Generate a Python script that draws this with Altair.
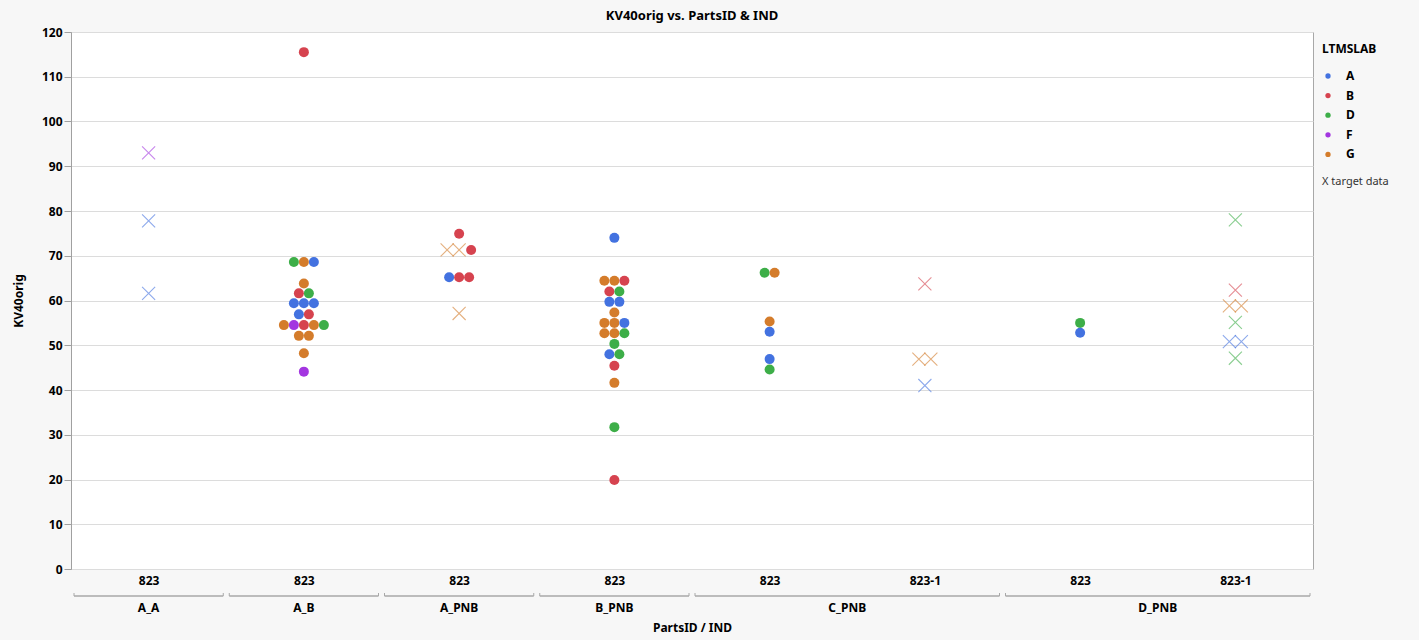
import altair as alt
import pandas as pd

# ---- data ----
groups = ["A_A", "A_B", "A_PNB", "B_PNB", "C_PNB", "D_PNB"]
group_start = [0, 1, 2, 3, 4, 6]
group_end = [1, 2, 3, 4, 6, 8]
ind_labels = ["823", "823", "823", "823", "823", "823-1", "823", "823-1"]
labs = ["A", "B", "D", "F", "G"]
lab_colors = ["#4372e0", "#d6434f", "#3dae48", "#a336e0", "#d47c2b"]

# rows: (column index, KV40orig, labs left->right, kinds left->right: o = lab data, x = target data)
rows = [
    (0, 93.0, "F", "x"),
    (0, 77.8, "A", "x"),
    (0, 61.6, "A", "x"),
    (1, 115.5, "B", "o"),
    (1, 68.6, "DGA", "ooo"),
    (1, 63.8, "G", "o"),
    (1, 61.6, "BD", "oo"),
    (1, 59.4, "AAA", "ooo"),
    (1, 56.9, "AB", "oo"),
    (1, 54.5, "GFBGD", "ooooo"),
    (1, 52.1, "GG", "oo"),
    (1, 48.2, "G", "o"),
    (1, 44.1, "F", "o"),
    (2, 74.9, "B", "o"),
    (2, 71.3, "GGB", "xxo"),
    (2, 65.2, "ABB", "ooo"),
    (2, 57.1, "G", "x"),
    (3, 74.0, "A", "o"),
    (3, 64.4, "GGB", "ooo"),
    (3, 62.0, "BD", "oo"),
    (3, 59.7, "AA", "oo"),
    (3, 57.3, "G", "o"),
    (3, 55.0, "GGA", "ooo"),
    (3, 52.7, "GGD", "ooo"),
    (3, 50.3, "D", "o"),
    (3, 48.0, "AD", "oo"),
    (3, 45.4, "B", "o"),
    (3, 41.6, "G", "o"),
    (3, 31.7, "D", "o"),
    (3, 19.9, "B", "o"),
    (4, 66.2, "DG", "oo"),
    (4, 55.3, "G", "o"),
    (4, 53.0, "A", "o"),
    (4, 46.9, "A", "o"),
    (4, 44.6, "D", "o"),
    (5, 63.7, "B", "x"),
    (5, 46.9, "GG", "xx"),
    (5, 41.0, "A", "x"),
    (6, 55.0, "D", "o"),
    (6, 52.8, "A", "o"),
    (7, 78.0, "D", "x"),
    (7, 62.3, "B", "x"),
    (7, 58.8, "GG", "xx"),
    (7, 55.1, "D", "x"),
    (7, 50.8, "AA", "xx"),
    (7, 47.1, "D", "x"),
]

W, H = 1242, 537
NCOL = len(ind_labels)
COL_PX = W / NCOL
FONT = "Noto Sans"

# swarm layout: points sharing a row sit side by side around the column centre
recs = []
for col, val, ls, ks in rows:
    n = len(ls)
    step = 12 if "x" in ks else 10
    for i, (l, k) in enumerate(zip(ls, ks)):
        off = (i - (n - 1) / 2) * step
        recs.append(dict(xpos=col + 0.5 + off / COL_PX, KV40orig=val, LTMSLAB=l, kind=k))
df = pd.DataFrame(recs)

gap = 3 / COL_PX
gdf = pd.DataFrame({
    "group": groups,
    "b0": [s + gap for s in group_start],
    "b1": [e - gap for e in group_end],
    "mid": [(s + e) / 2 for s, e in zip(group_start, group_end)],
})

xscale = alt.Scale(domain=[0, NCOL], nice=False, zero=False)
yscale = alt.Scale(domain=[0, 120], nice=False, zero=True)

label_arr = "[" + ",".join("'%s'" % s for s in ind_labels) + "]"
x_axis = alt.Axis(
    values=[i + 0.5 for i in range(NCOL)],
    labelExpr=label_arr + "[floor(datum.value)]",
    grid=False, ticks=False, domain=False,
    labelFont=FONT, labelFontSize=12, labelFontWeight="bold", labelColor="#000",
    labelPadding=6,
    title="PartsID / IND", titleFont=FONT, titleFontSize=12, titleFontWeight="bold",
    titleColor="#000", titlePadding=36,
)
y_axis = alt.Axis(
    values=list(range(0, 121, 10)),
    grid=True, gridColor="#dcdcdc",
    ticks=True, tickSize=7, tickColor="#a0a0a0",
    domain=True, domainColor="#a0a0a0",
    labelFont=FONT, labelFontSize=12, labelFontWeight="bold", labelColor="#000",
    labelPadding=2,
    title="KV40orig", titleFont=FONT, titleFontSize=12, titleFontWeight="bold",
    titleColor="#000", titlePadding=16,
)
legend = alt.Legend(
    title="LTMSLAB", orient="none", legendX=W + 9, legendY=12,
    titleFont=FONT, titleFontSize=12, titleFontWeight="bold", titleColor="#000",
    titlePadding=14,
    labelFont=FONT, labelFontSize=12, labelFontWeight="bold", labelColor="#000",
    symbolType="circle", symbolSize=28, symbolStrokeWidth=0, rowPadding=7.6,
    labelOffset=12,
)
color = alt.Color("LTMSLAB:N", scale=alt.Scale(domain=labs, range=lab_colors), legend=legend)

X = lambda f: alt.X(f, scale=xscale, axis=x_axis)
Y = alt.Y("KV40orig:Q", scale=yscale, axis=y_axis)

base = alt.Chart(df)
dots = base.transform_filter(alt.datum.kind == "o").mark_circle(size=100, opacity=1).encode(
    x=X("xpos:Q"), y=Y, color=color,
)
crosses = base.transform_filter(alt.datum.kind == "x").mark_point(
    shape="M-1,-1L1,1M-1,1L1,-1", size=170, filled=False, strokeWidth=1.1, opacity=0.6
).encode(x=X("xpos:Q"), y=Y, color=color)

gbase = alt.Chart(gdf)
brackets = gbase.mark_rule(color="#a8a8a8", strokeWidth=1.5).encode(
    x=X("b0:Q"), x2="b1:Q", y=alt.value(H + 27)
)
lend = gbase.mark_rule(color="#a8a8a8", strokeWidth=1).encode(
    x=X("b0:Q"), y=alt.value(H + 24), y2=alt.value(H + 27)
)
rend = gbase.mark_rule(color="#a8a8a8", strokeWidth=1).encode(
    x=X("b1:Q"), y=alt.value(H + 24), y2=alt.value(H + 27)
)
glabels = gbase.mark_text(font=FONT, fontSize=12, fontWeight="bold", color="#000", baseline="middle").encode(
    x=X("mid:Q"), y=alt.value(H + 39), text="group:N"
)
note = alt.Chart(pd.DataFrame({"t": ["X target data"]})).mark_text(
    font=FONT, fontSize=11, color="#333", align="left", baseline="middle"
).encode(x=alt.value(W + 9), y=alt.value(150), text="t:N")

chart = alt.layer(dots, crosses, brackets, lend, rend, glabels, note).properties(
    width=W, height=H,
    title=alt.TitleParams("KV40orig vs. PartsID & IND", font=FONT, fontSize=13, fontWeight="bold",
                          color="#000", anchor="middle", offset=3),
    autosize=alt.AutoSizeParams(type="none"),
    padding={"left": 71, "top": 32, "right": 106, "bottom": 71},
    background="#f7f7f7",
).configure_view(fill="white", stroke="#a8a8a8", strokeWidth=1)

chart.save("out.html", embed_options={"renderer": "svg", "actions": False})
